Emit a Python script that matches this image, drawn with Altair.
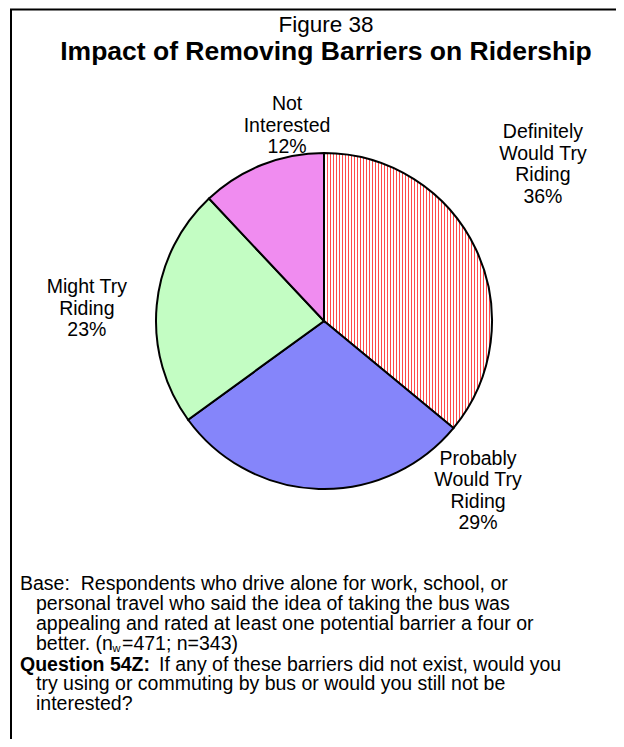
import math
import altair as alt
import pandas as pd

# ---------------- data ----------------
categories = ["Definitely Would Try Riding", "Probably Would Try Riding",
              "Might Try Riding", "Not Interested"]
label_names = ["Definitely\nWould Try\nRiding", "Probably\nWould Try\nRiding",
               "Might Try\nRiding", "Not\nInterested"]
values = [36, 29, 23, 12]

title_top = "Figure 38"
title_main = "Impact of Removing Barriers on Ridership"

base_lines = [
    "Base:\u00a0 Respondents who drive alone for work, school, or",
    "personal travel who said the idea of taking the bus was",
    "appealing and rated at least one potential barrier a four or",
]
base_last = ["better. (n", "w", "=471; n=343)"]
question_bold = "Question 54Z:"
question_lines = [
    "If any of these barriers did not exist, would you",
    "try using or commuting by bus or would you still not be",
    "interested?",
]

# ---------------- layout / style ----------------
W, H = 608, 731
CX, CY, R = 316, 313, 168
FONT = "Liberation Sans"
LABEL_FS = 19.5
FOOT_FS = 19.5

starts, ends, mids = [], [], []
acc = 0
for v in values:
    starts.append(acc)
    mids.append(acc + v / 2)
    acc += v
    ends.append(acc)

df = pd.DataFrame({
    "cat": categories,
    "value": values,
    "start": starts,
    "end": ends,
    "mid": mids,
    "label": [f"{n}\n{v}%" for n, v in zip(label_names, values)],
})

theta_scale = alt.Scale(domain=[0, 100], range=[0, 2 * math.pi])

# red vertical stripes (pattern) as a hard-stop linear gradient
n_periods = 56
stops = []
for k in range(n_periods):
    a = k / n_periods
    b = (k + 0.4) / n_periods
    c = (k + 1) / n_periods
    stops += [alt.GradientStop(color="#FF4A4A", offset=a),
              alt.GradientStop(color="#FF4A4A", offset=b),
              alt.GradientStop(color="#FFFFFF", offset=b),
              alt.GradientStop(color="#FFFFFF", offset=c)]
stripes = alt.LinearGradient(gradient="linear", stops=stops, x1=0, x2=1, y1=0, y2=0)

fills = [stripes, "#8585FA", "#C3FDC3", "#F08CF0"]

base = alt.Chart(df)

layers = []

# frame
layers.append(
    alt.Chart(pd.DataFrame({"a": [0]})).mark_rect(
        filled=False, stroke="black", strokeWidth=2
    ).encode(x=alt.value(3), x2=alt.value(W + 40), y=alt.value(1.5), y2=alt.value(H + 40))
)

for cat, fill in zip(categories, fills):
    layers.append(
        base.transform_filter(alt.datum.cat == cat).mark_arc(
            outerRadius=R, fill=fill, stroke="black", strokeWidth=2
        ).encode(
            theta=alt.Theta("start:Q", scale=theta_scale, stack=False),
            theta2="end:Q",
            x=alt.value(CX), y=alt.value(CY),
        )
    )

# label offsets relative to polar anchor at radius 190 (Excel "best fit" placement)
label_offsets = {
    "Definitely Would Try Riding": (47, -102),
    "Probably Would Try Riding": (160, -46),
    "Might Try Riding": (-48, -10),
    "Not Interested": (33, -34),
}
for cat in categories:
    dx, dy = label_offsets[cat]
    layers.append(
        base.transform_filter(alt.datum.cat == cat).mark_text(
            radius=190, dx=dx, dy=dy, align="center", baseline="alphabetic",
            lineBreak="\n", lineHeight=21.5, font=FONT, fontSize=LABEL_FS, color="black"
        ).encode(
            theta=alt.Theta("mid:Q", scale=theta_scale, stack=False),
            text="label:N",
            x=alt.value(CX), y=alt.value(CY),
        )
    )


def txt(s, x, y, size, weight="normal", align="left"):
    return alt.Chart(pd.DataFrame({"t": [s]})).mark_text(
        align=align, baseline="alphabetic", font=FONT, fontSize=size,
        fontWeight=weight, color="black"
    ).encode(text="t:N", x=alt.value(x), y=alt.value(y))


layers.append(txt(title_top, 318, 24, 22.5, align="center"))
layers.append(txt(title_main, 318, 52, 26.5, weight="bold", align="center"))

fy = [582, 602, 622, 642, 662, 682, 702]
layers.append(txt(base_lines[0], 12, fy[0], FOOT_FS))
layers.append(txt(base_lines[1], 28, fy[1], FOOT_FS))
layers.append(txt(base_lines[2], 28, fy[2], FOOT_FS))
layers.append(txt(base_last[0], 28, fy[3], FOOT_FS))
layers.append(txt(base_last[1], 104.5, fy[3] + 1.5, 11))
layers.append(txt(base_last[2], 114, fy[3], FOOT_FS))
layers.append(txt(question_bold, 12, fy[4] + 0.5, FOOT_FS, weight="bold"))
layers.append(txt(question_lines[0], 151, fy[4] + 0.5, FOOT_FS))
layers.append(txt(question_lines[1], 28, fy[5], FOOT_FS))
layers.append(txt(question_lines[2], 28, fy[6], FOOT_FS))

chart = alt.layer(*layers).properties(
    width=W, height=H, padding=0,
    autosize=alt.AutoSizeParams(type="none"),
    background="white",
).configure_view(stroke=None)

chart.save("out.html", embed_options={"renderer": "svg", "actions": False})
